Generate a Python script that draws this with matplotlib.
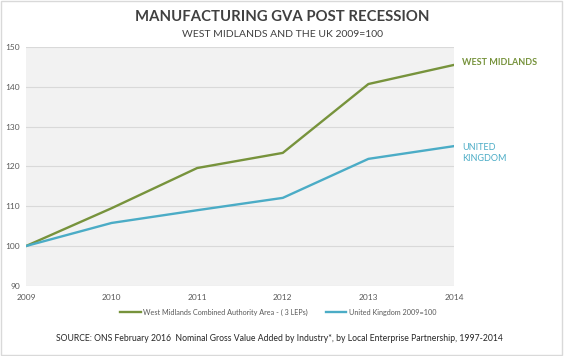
import matplotlib
matplotlib.use("Agg")
import matplotlib.pyplot as plt
from matplotlib.patches import Rectangle

plt.rcParams["font.family"] = ["Lato", "DejaVu Sans"]

years = [2009, 2010, 2011, 2012, 2013, 2014]
west_midlands = [100, 109.5, 119.6, 123.4, 140.7, 145.5]
united_kingdom = [100, 105.8, 109.0, 112.1, 121.9, 125.1]
y_ticks = [90, 100, 110, 120, 130, 140, 150]

GREEN = "#77933c"
BLUE = "#4bacc6"
TEXT = "#404040"
TICK = "#595959"

fig = plt.figure(figsize=(5.64, 3.56), dpi=100)
fig.patches.append(Rectangle((0.002, 0.003), 0.995, 0.993, transform=fig.transFigure,
                             fill=False, edgecolor="#d9d9d9", linewidth=1))

ax = fig.add_axes([0.046, 0.197, 0.759, 0.671])
ax.set_facecolor("#f2f2f2")

ax.plot(years, west_midlands, color=GREEN, linewidth=1.7,
        label="West Midlands Combined Authority Area - ( 3 LEPs)")
ax.plot(years, united_kingdom, color=BLUE, linewidth=1.7,
        label="United Kingdom 2009=100")

ax.set_xlim(years[0], years[-1])
ax.set_ylim(y_ticks[0], y_ticks[-1])
ax.set_xticks(years)
ax.set_yticks(y_ticks)
ax.grid(axis="y", color="#d9d9d9", linewidth=0.8)
ax.set_axisbelow(True)
for s in ax.spines.values():
    s.set_visible(False)
ax.tick_params(length=0, labelsize=6, labelcolor=TICK)
ax.tick_params(axis="x", pad=6)
ax.tick_params(axis="y", pad=4)

ax.annotate("WEST MIDLANDS", xy=(years[-1], west_midlands[-1]), xytext=(6, 2),
            textcoords="offset points", color=GREEN, fontsize=6.5, fontweight="bold",
            va="center", ha="left", annotation_clip=False)
ax.annotate("UNITED\nKINGDOM", xy=(years[-1], united_kingdom[-1]), xytext=(6, -5),
            textcoords="offset points", color=BLUE, fontsize=6.5,
            va="center", ha="left", linespacing=1.4, annotation_clip=False)

fig.text(0.5, 0.952, "MANUFACTURING GVA POST RECESSION", ha="center", va="center",
         fontsize=10.7, fontweight="bold", color=TEXT)
fig.text(0.5, 0.902, "WEST MIDLANDS AND THE UK 2009=100", ha="center", va="center",
         fontsize=7.5, color=TEXT)

fig.legend(loc="center", bbox_to_anchor=(0.494, 0.123), ncol=2, frameon=False,
           fontsize=5.2, labelcolor=TICK, handlelength=2.8, handletextpad=0.4,
           columnspacing=2.5)

fig.text(0.495, 0.05, "SOURCE: ONS February 2016  Nominal Gross Value Added by Industry*, "
         "by Local Enterprise Partnership, 1997-2014", ha="center", va="center",
         fontsize=6.25, color="#262626")

fig.savefig("out.png", dpi=100)
